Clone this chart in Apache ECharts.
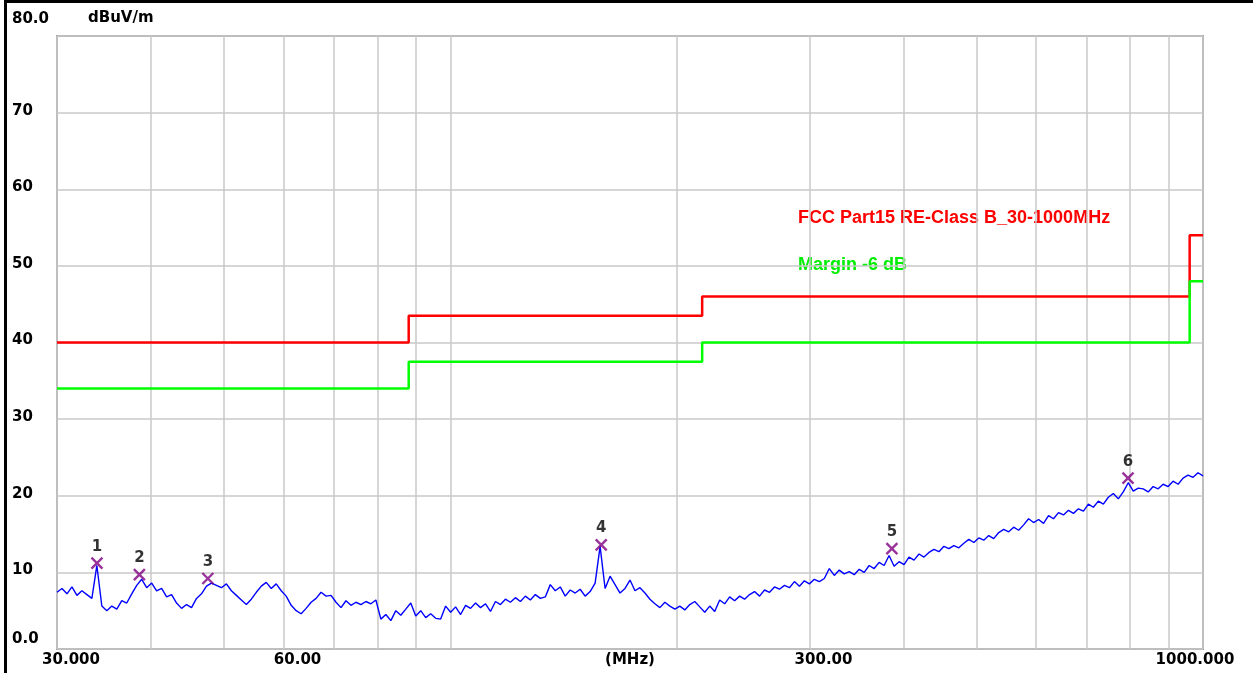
<!DOCTYPE html>
<html>
<head>
<meta charset="utf-8">
<title>Radiated emission 30-1000MHz</title>
<script src="https://cdn.jsdelivr.net/npm/echarts@6/dist/echarts.min.js"></script>
<style>
html, body { margin: 0; padding: 0; background: #fff; }
#main { width: 1253px; height: 673px; }
</style>
</head>
<body>
<div id="main"></div>
<script>
// sweep from 30 to 1000 MHz, points evenly spaced on the log scale
var sweepStart = 30;
var sweepStop = 1000;
var traceLevels = [
    7.4, 7.9, 7.2, 8.1, 7.0, 7.6, 7.1, 6.6, 10.9, 5.6,
    5.0, 5.6, 5.2, 6.3, 6.0, 7.2, 8.3, 9.1, 8.0, 8.6,
    7.6, 7.9, 6.8, 7.1, 6.0, 5.3, 5.8, 5.4, 6.6, 7.2,
    8.2, 8.6, 8.3, 8.0, 8.5, 7.6, 7.0, 6.4, 5.8, 6.5,
    7.4, 8.2, 8.7, 7.9, 8.5, 7.6, 6.9, 5.7, 5.0, 4.6,
    5.3, 6.1, 6.6, 7.4, 6.9, 7.0, 6.1, 5.4, 6.3, 5.7,
    6.1, 5.8, 6.2, 5.9, 6.4, 3.9, 4.5, 3.7, 5.0, 4.4,
    5.2, 6.0, 4.3, 5.0, 4.1, 4.6, 4.0, 3.9, 5.6, 4.8,
    5.5, 4.5, 5.7, 5.3, 6.0, 5.4, 5.9, 4.9, 6.2, 5.8,
    6.5, 6.1, 6.7, 6.2, 6.9, 6.4, 7.1, 6.6, 6.8, 8.4,
    7.6, 8.1, 6.9, 7.7, 7.3, 7.8, 6.9, 7.5, 8.6, 13.4,
    7.9, 9.5, 8.4, 7.3, 7.9, 9.0, 7.6, 8.0, 7.3, 6.5,
    5.9, 5.4, 6.1, 5.6, 5.2, 5.6, 5.1, 5.8, 6.2, 5.5,
    4.8, 5.6, 4.9, 6.4, 5.9, 6.8, 6.3, 6.9, 6.5, 7.1,
    7.5, 6.9, 7.7, 7.4, 8.1, 7.8, 8.3, 8.0, 8.8, 8.2,
    8.9, 8.5, 9.1, 8.8, 9.2, 10.5, 9.6, 10.3, 9.8, 10.1,
    9.7, 10.4, 10.0, 10.9, 10.5, 11.3, 10.9, 12.2, 10.8, 11.4,
    11.0, 12.0, 11.6, 12.4, 12.0, 12.6, 13.0, 12.7, 13.4, 13.1,
    13.5, 13.2, 13.8, 14.3, 13.9, 14.5, 14.2, 14.8, 14.4, 15.2,
    15.6, 15.3, 15.9, 15.5, 16.2, 17.0, 16.5, 16.9, 16.4, 17.4,
    17.0, 17.8, 17.5, 18.1, 17.7, 18.3, 18.0, 18.9, 18.5, 19.3,
    18.9, 19.8, 20.3, 19.6, 20.5, 21.7, 20.6, 21.0, 20.9, 20.5,
    21.2, 20.9, 21.5, 21.2, 21.9, 21.5, 22.3, 22.7, 22.4, 23.0,
    22.6
];

// FCC Part 15 class B limit (3 m), band edges in MHz and levels
var limitEdges = [30, 88, 216, 960, 1000];
var limitLevels = [40, 43.5, 46, 54];
var marginDb = -6;

// peak markers
var markerNames = ['1', '2', '3', '4', '5', '6'];
var markerFreqs = [33.9, 38.6, 47.6, 158.6, 386, 795];
var markerLevels = [11.2, 9.7, 9.2, 13.6, 13.1, 22.3];

// axis ticks
var xGridValues = [30, 40, 50, 60, 70, 80, 90, 100, 200, 300, 400, 500, 600, 700, 800, 900, 1000];
var xLabelValues = [30, 60, 300, 1000];
var xLabelTexts = ['30.000', '60.00', '300.00', '1000.000'];
var yLabelTexts = ['0.0', '10', '20', '30', '40', '50', '60', '70', '80.0'];

var FONT = 'DejaVu Sans';

var myChart = echarts.init(document.getElementById('main'));

var n = traceLevels.length;
var traceData = traceLevels.map(function (v, i) {
    var f = sweepStart * Math.pow(sweepStop / sweepStart, i / (n - 1));
    return [f, v];
});

function stepData(offset) {
    var out = [];
    for (var k = 0; k < limitLevels.length; k++) {
        out.push([limitEdges[k], limitLevels[k] + offset]);
        out.push([limitEdges[k + 1], limitLevels[k] + offset]);
    }
    return out;
}

var markerData = markerFreqs.map(function (f, i) {
    return { name: markerNames[i], value: [f, markerLevels[i]] };
});

var option = {
    animation: false,
    backgroundColor: '#ffffff',
    grid: {
        left: 57, right: 50, top: 36, bottom: 24,
        containLabel: false,
        outerBoundsMode: 'none',
        show: true,
        backgroundColor: '#ffffff',
        borderColor: '#a0a0a0',
        borderWidth: 2
    },
    xAxis: {
        type: 'log',
        logBase: 10,
        min: sweepStart,
        max: sweepStop,
        name: '(MHz)',
        nameLocation: 'middle',
        nameGap: 4,
        nameMoveOverlap: false,
        nameTextStyle: { fontFamily: FONT, fontWeight: 'bold', fontSize: 15, color: '#000', verticalAlign: 'top' },
        axisLine: { show: false },
        axisTick: { show: false, customValues: xGridValues },
        minorTick: { show: false },
        splitLine: { show: true, lineStyle: { color: '#c8c8c8', width: 1.5 } },
        axisLabel: {
            customValues: xLabelValues,
            margin: 4,
            color: '#000',
            fontFamily: FONT,
            fontWeight: 'bold',
            fontSize: 15,
            formatter: function (v) {
                var k = xLabelValues.indexOf(Math.round(v));
                var t = k >= 0 ? xLabelTexts[k] : '';
                return Math.round(v) === 1000 ? '{l|' + t + '}' : '{r|' + t + '}';
            },
            rich: {
                r: { fontFamily: FONT, fontWeight: 'bold', fontSize: 15, color: '#000', padding: [0, 0, 0, 28] },
                l: { fontFamily: FONT, fontWeight: 'bold', fontSize: 15, color: '#000', padding: [0, 16, 0, 0] }
            }
        }
    },
    yAxis: {
        type: 'value',
        min: 0,
        max: 80,
        interval: 10,
        axisLine: { show: false },
        axisTick: { show: false },
        splitLine: { show: true, lineStyle: { color: '#c8c8c8', width: 1.5 } },
        axisLabel: {
            align: 'left',
            margin: 45,
            color: '#000',
            fontFamily: FONT,
            fontWeight: 'bold',
            fontSize: 15,
            formatter: function (v) {
                var t = yLabelTexts[Math.round(v / 10)];
                if (v === 80) return '{hi|' + t + '}';
                if (v === 0) return '{lo|' + t + '}';
                return '{m|' + t + '}';
            },
            rich: {
                hi: { fontFamily: FONT, fontWeight: 'bold', fontSize: 15, color: '#000', padding: [0, 0, 34, 0] },
                lo: { fontFamily: FONT, fontWeight: 'bold', fontSize: 15, color: '#000', padding: [0, 0, 20, 0] },
                m: { fontFamily: FONT, fontWeight: 'bold', fontSize: 15, color: '#000', padding: [0, 0, 4, 0] }
            }
        }
    },
    graphic: [
        { type: 'rect', left: 4, top: 0, shape: { width: 3, height: 673 }, style: { fill: '#000' }, silent: true },
        { type: 'rect', left: 4, top: 0, shape: { width: 1249, height: 3 }, style: { fill: '#000' }, silent: true },
        {
            type: 'text', left: 88, top: 11,
            style: { text: 'dBuV/m', font: 'bold 15px "DejaVu Sans"', fill: '#000' }
        },
        {
            type: 'text', left: 798, top: 209,
            style: { text: 'FCC Part15 RE-Class B_30-1000MHz', font: 'bold 18px "Liberation Sans"', fill: '#ff0000' }
        },
        {
            type: 'text', left: 798, top: 256,
            style: { text: 'Margin -6 dB', font: 'bold 18px "Liberation Sans"', fill: '#00ee00' }
        }
    ],
    series: [
        {
            name: 'Limit',
            type: 'line',
            data: stepData(0),
            showSymbol: false,
            silent: true,
            lineStyle: { color: '#ff0000', width: 2.5 },
            z: 3
        },
        {
            name: 'Margin',
            type: 'line',
            data: stepData(marginDb),
            showSymbol: false,
            silent: true,
            lineStyle: { color: '#00ff00', width: 2.5 },
            z: 3
        },
        {
            name: 'Peak',
            type: 'line',
            data: traceData,
            showSymbol: false,
            silent: true,
            lineStyle: { color: '#0000ff', width: 1.4 },
            z: 4
        },
        {
            name: 'Markers',
            type: 'scatter',
            data: markerData,
            symbol: 'path://M0,0L10,10M10,0L0,10',
            symbolSize: 11,
            itemStyle: { color: 'rgba(0,0,0,0)', borderColor: '#800080', borderWidth: 2.4 },
            label: {
                show: true,
                position: 'top',
                distance: 2,
                formatter: '{b}',
                color: '#000',
                fontFamily: FONT,
                fontWeight: 'bold',
                fontSize: 15
            },
            z: 5
        }
    ]
};

myChart.setOption(option);
</script>
</body>
</html>
